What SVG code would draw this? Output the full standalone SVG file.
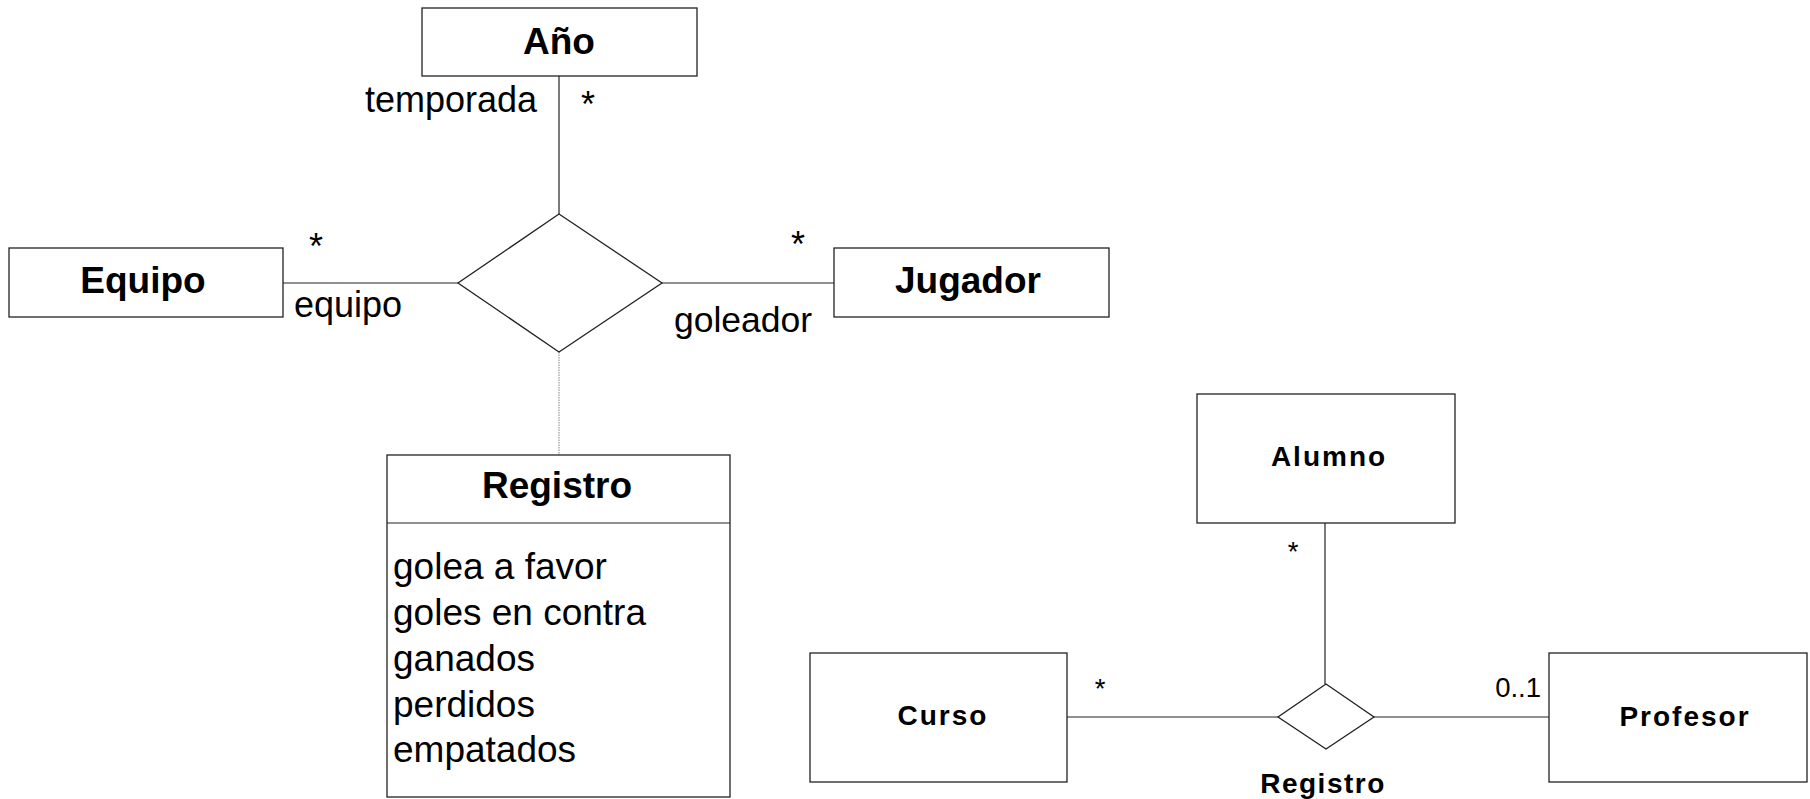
<svg xmlns="http://www.w3.org/2000/svg" width="1810" height="799" viewBox="0 0 1810 799">
<style>
.box{fill:#fff;stroke:#222;stroke-width:1.3}
.ln{fill:none;stroke:#222;stroke-width:1.2}
.dot{fill:none;stroke:#999;stroke-width:1.2;stroke-dasharray:1.5,1}
.t{font-family:"Liberation Sans",Arial,sans-serif;fill:#000}
.big{font-size:37px;font-weight:bold}
.reg{font-size:36px}
.attr{font-size:37px}
.sm{font-size:28px;font-weight:bold;letter-spacing:2px}
.smr{font-size:27.5px}
</style>
<rect width="1810" height="799" fill="#fff"/>
<g id="connectors">
<line class="ln" x1="559" y1="76" x2="559" y2="214"/>
<line class="ln" x1="283" y1="283" x2="458" y2="283"/>
<line class="ln" x1="662" y1="283" x2="834" y2="283"/>
<line class="dot" x1="559" y1="352" x2="559" y2="455"/>
<line class="ln" x1="1325" y1="523" x2="1325" y2="684"/>
<line class="ln" x1="1067" y1="717" x2="1278" y2="717"/>
<line class="ln" x1="1374" y1="717" x2="1549" y2="717"/>
<text class="t reg" x="537" y="112" text-anchor="end">temporada</text>
<text class="t reg" x="588" y="117" text-anchor="middle">*</text>
<text class="t reg" x="316" y="259" text-anchor="middle">*</text>
<text class="t reg" x="294" y="317">equipo</text>
<text class="t reg" x="798" y="257" text-anchor="middle">*</text>
<text class="t reg" x="674" y="332" style="font-size:35.5px">goleador</text>
<text class="t smr" x="1293" y="561" text-anchor="middle">*</text>
<text class="t smr" x="1100" y="698" text-anchor="middle">*</text>
<text class="t smr" x="1541" y="697" text-anchor="end">0..1</text>
</g>
<g id="ano">
<rect class="box" x="422" y="8" width="275" height="68"/>
<text class="t big" x="559" y="54" text-anchor="middle">Año</text>
</g>
<g id="equipo">
<rect class="box" x="9" y="248" width="274" height="69"/>
<text class="t big" x="143" y="293" text-anchor="middle">Equipo</text>
</g>
<g id="jugador">
<rect class="box" x="834" y="248" width="275" height="69"/>
<text class="t big" x="968" y="293" text-anchor="middle">Jugador</text>
</g>
<g id="rel1">
<polygon class="box" points="559,214 662,283 559,352 458,283"/>
</g>
<g id="registro">
<rect class="box" x="387" y="455" width="343" height="342"/>
<line class="ln" x1="387" y1="523" x2="730" y2="523"/>
<text class="t big" x="557" y="498" text-anchor="middle">Registro</text>
<text class="t attr" x="393" y="579">golea a favor</text>
<text class="t attr" x="393" y="625">goles en contra</text>
<text class="t attr" x="393" y="671">ganados</text>
<text class="t attr" x="393" y="717">perdidos</text>
<text class="t attr" x="393" y="762">empatados</text>
</g>
<g id="alumno">
<rect class="box" x="1197" y="394" width="258" height="129"/>
<text class="t sm" x="1329" y="466" text-anchor="middle">Alumno</text>
</g>
<g id="curso">
<rect class="box" x="810" y="653" width="257" height="129"/>
<text class="t sm" x="943" y="725" text-anchor="middle">Curso</text>
</g>
<g id="profesor">
<rect class="box" x="1549" y="653" width="258" height="129"/>
<text class="t sm" x="1685" y="726" text-anchor="middle">Profesor</text>
</g>
<g id="rel2">
<polygon class="box" points="1326,684 1374,717 1326,749 1278,717"/>
<text class="t sm" x="1323" y="793" text-anchor="middle" style="letter-spacing:1.5px">Registro</text>
</g>
</svg>
